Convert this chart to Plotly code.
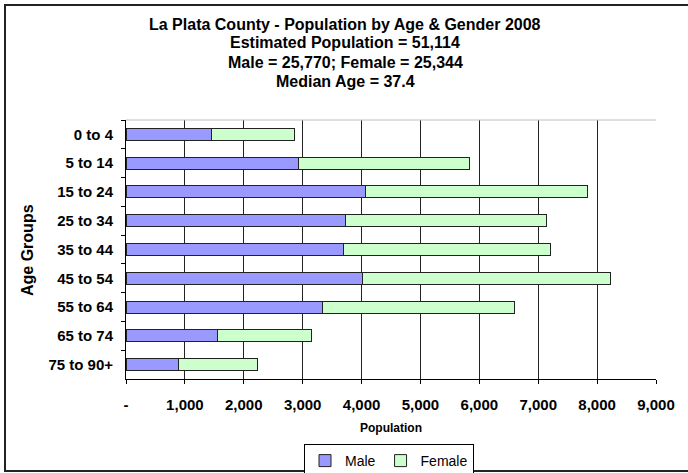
import plotly.graph_objects as go

age_groups = ["0 to 4", "5 to 14", "15 to 24", "25 to 34", "35 to 44",
              "45 to 54", "55 to 64", "65 to 74", "75 to 90+"]
male = [1460, 2937, 4064, 3735, 3701, 4024, 3334, 1562, 895]
female = [1399, 2893, 3775, 3408, 3510, 4205, 3265, 1596, 1336]
x_tick_vals = [0, 1000, 2000, 3000, 4000, 5000, 6000, 7000, 8000, 9000]
x_tick_text = ["-", "1,000", "2,000", "3,000", "4,000", "5,000", "6,000", "7,000", "8,000", "9,000"]
title_lines = ["La Plata County - Population by Age & Gender 2008",
               "Estimated Population = 51,114",
               "Male = 25,770; Female = 25,344",
               "Median Age = 37.4"]

FONT = "Arial, 'Liberation Sans', sans-serif"
W, H = 688, 473
L, R, T, B = 126, 32, 120, 94
PW, PH = W - L - R, H - T - B

def px_x(px):
    return (px - L) / PW

def px_y(py):
    return (H - B - py) / PH

fig = go.Figure()
fig.add_trace(go.Bar(y=age_groups, x=male, name="Male", orientation="h",
                     marker=dict(color="#9999FF", line=dict(color="#222222", width=1)),
                     width=0.42))
fig.add_trace(go.Bar(y=age_groups, x=female, name="Female", orientation="h",
                     marker=dict(color="#CCFFCC", line=dict(color="#222222", width=1)),
                     width=0.42))

annotations = []
title_y = [24, 43, 62, 81]
for txt, yy in zip(title_lines, title_y):
    annotations.append(dict(text="<b>" + txt + "</b>", xref="paper", yref="paper",
                            x=px_x(345), y=px_y(yy), xanchor="center", yanchor="middle",
                            showarrow=False, font=dict(family=FONT, size=16, color="black")))
annotations.append(dict(text="<b>Age Groups</b>", xref="paper", yref="paper",
                        x=px_x(27), y=px_y(250), xanchor="center", yanchor="middle",
                        textangle=-90, showarrow=False,
                        font=dict(family=FONT, size=16, color="black")))
annotations.append(dict(text="<b>Population</b>", xref="paper", yref="paper",
                        x=px_x(391), y=px_y(428), xanchor="center", yanchor="middle",
                        showarrow=False, font=dict(family=FONT, size=12, color="black")))

shapes = [
    # outer chart frame
    dict(type="rect", xref="paper", yref="paper", x0=px_x(5), x1=px_x(692),
         y0=px_y(471), y1=px_y(5), line=dict(color="#222222", width=2)),
    # plot area top border
    dict(type="line", xref="paper", yref="paper", x0=0, x1=1, y0=1, y1=1,
         line=dict(color="#C0C0C0", width=1)),
]

fig.update_layout(
    width=W, height=H,
    margin=dict(l=L, r=R, t=T, b=B, autoexpand=False),
    barmode="stack",
    paper_bgcolor="white", plot_bgcolor="white",
    font=dict(family=FONT, color="black"),
    showlegend=True,
    legend=dict(orientation="h", xref="container", yref="container",
                x=389 / W, y=1 - 444 / H, xanchor="center", yanchor="top",
                traceorder="normal",
                bordercolor="black", borderwidth=1, bgcolor="white",
                font=dict(family=FONT, size=14, color="black"),
                itemwidth=30, tracegroupgap=0),
    annotations=annotations,
    shapes=shapes,
    xaxis=dict(range=[0, 9000], tickvals=x_tick_vals, ticktext=x_tick_text,
               showgrid=True, gridcolor="#222222", gridwidth=1,
               showline=True, linecolor="black", linewidth=1,
               ticks="outside", ticklen=4, tickcolor="black",
               tickfont=dict(family=FONT, size=15, color="black", weight="bold"),
               ticklabelstandoff=8, zeroline=False, fixedrange=True, automargin=False),
    yaxis=dict(type="category", categoryorder="array", categoryarray=age_groups,
               autorange="reversed", showgrid=False,
               showline=True, linecolor="black", linewidth=1,
               ticks="outside", ticklen=4, tickcolor="black", tickson="boundaries",
               tickfont=dict(family=FONT, size=15, color="black", weight="bold"),
               ticklabelstandoff=9, fixedrange=True, automargin=False),
)

fig.write_html("out.html",
               config={"displayModeBar": False},
               post_script="document.body.style.margin='0';document.body.style.overflow='hidden';")
